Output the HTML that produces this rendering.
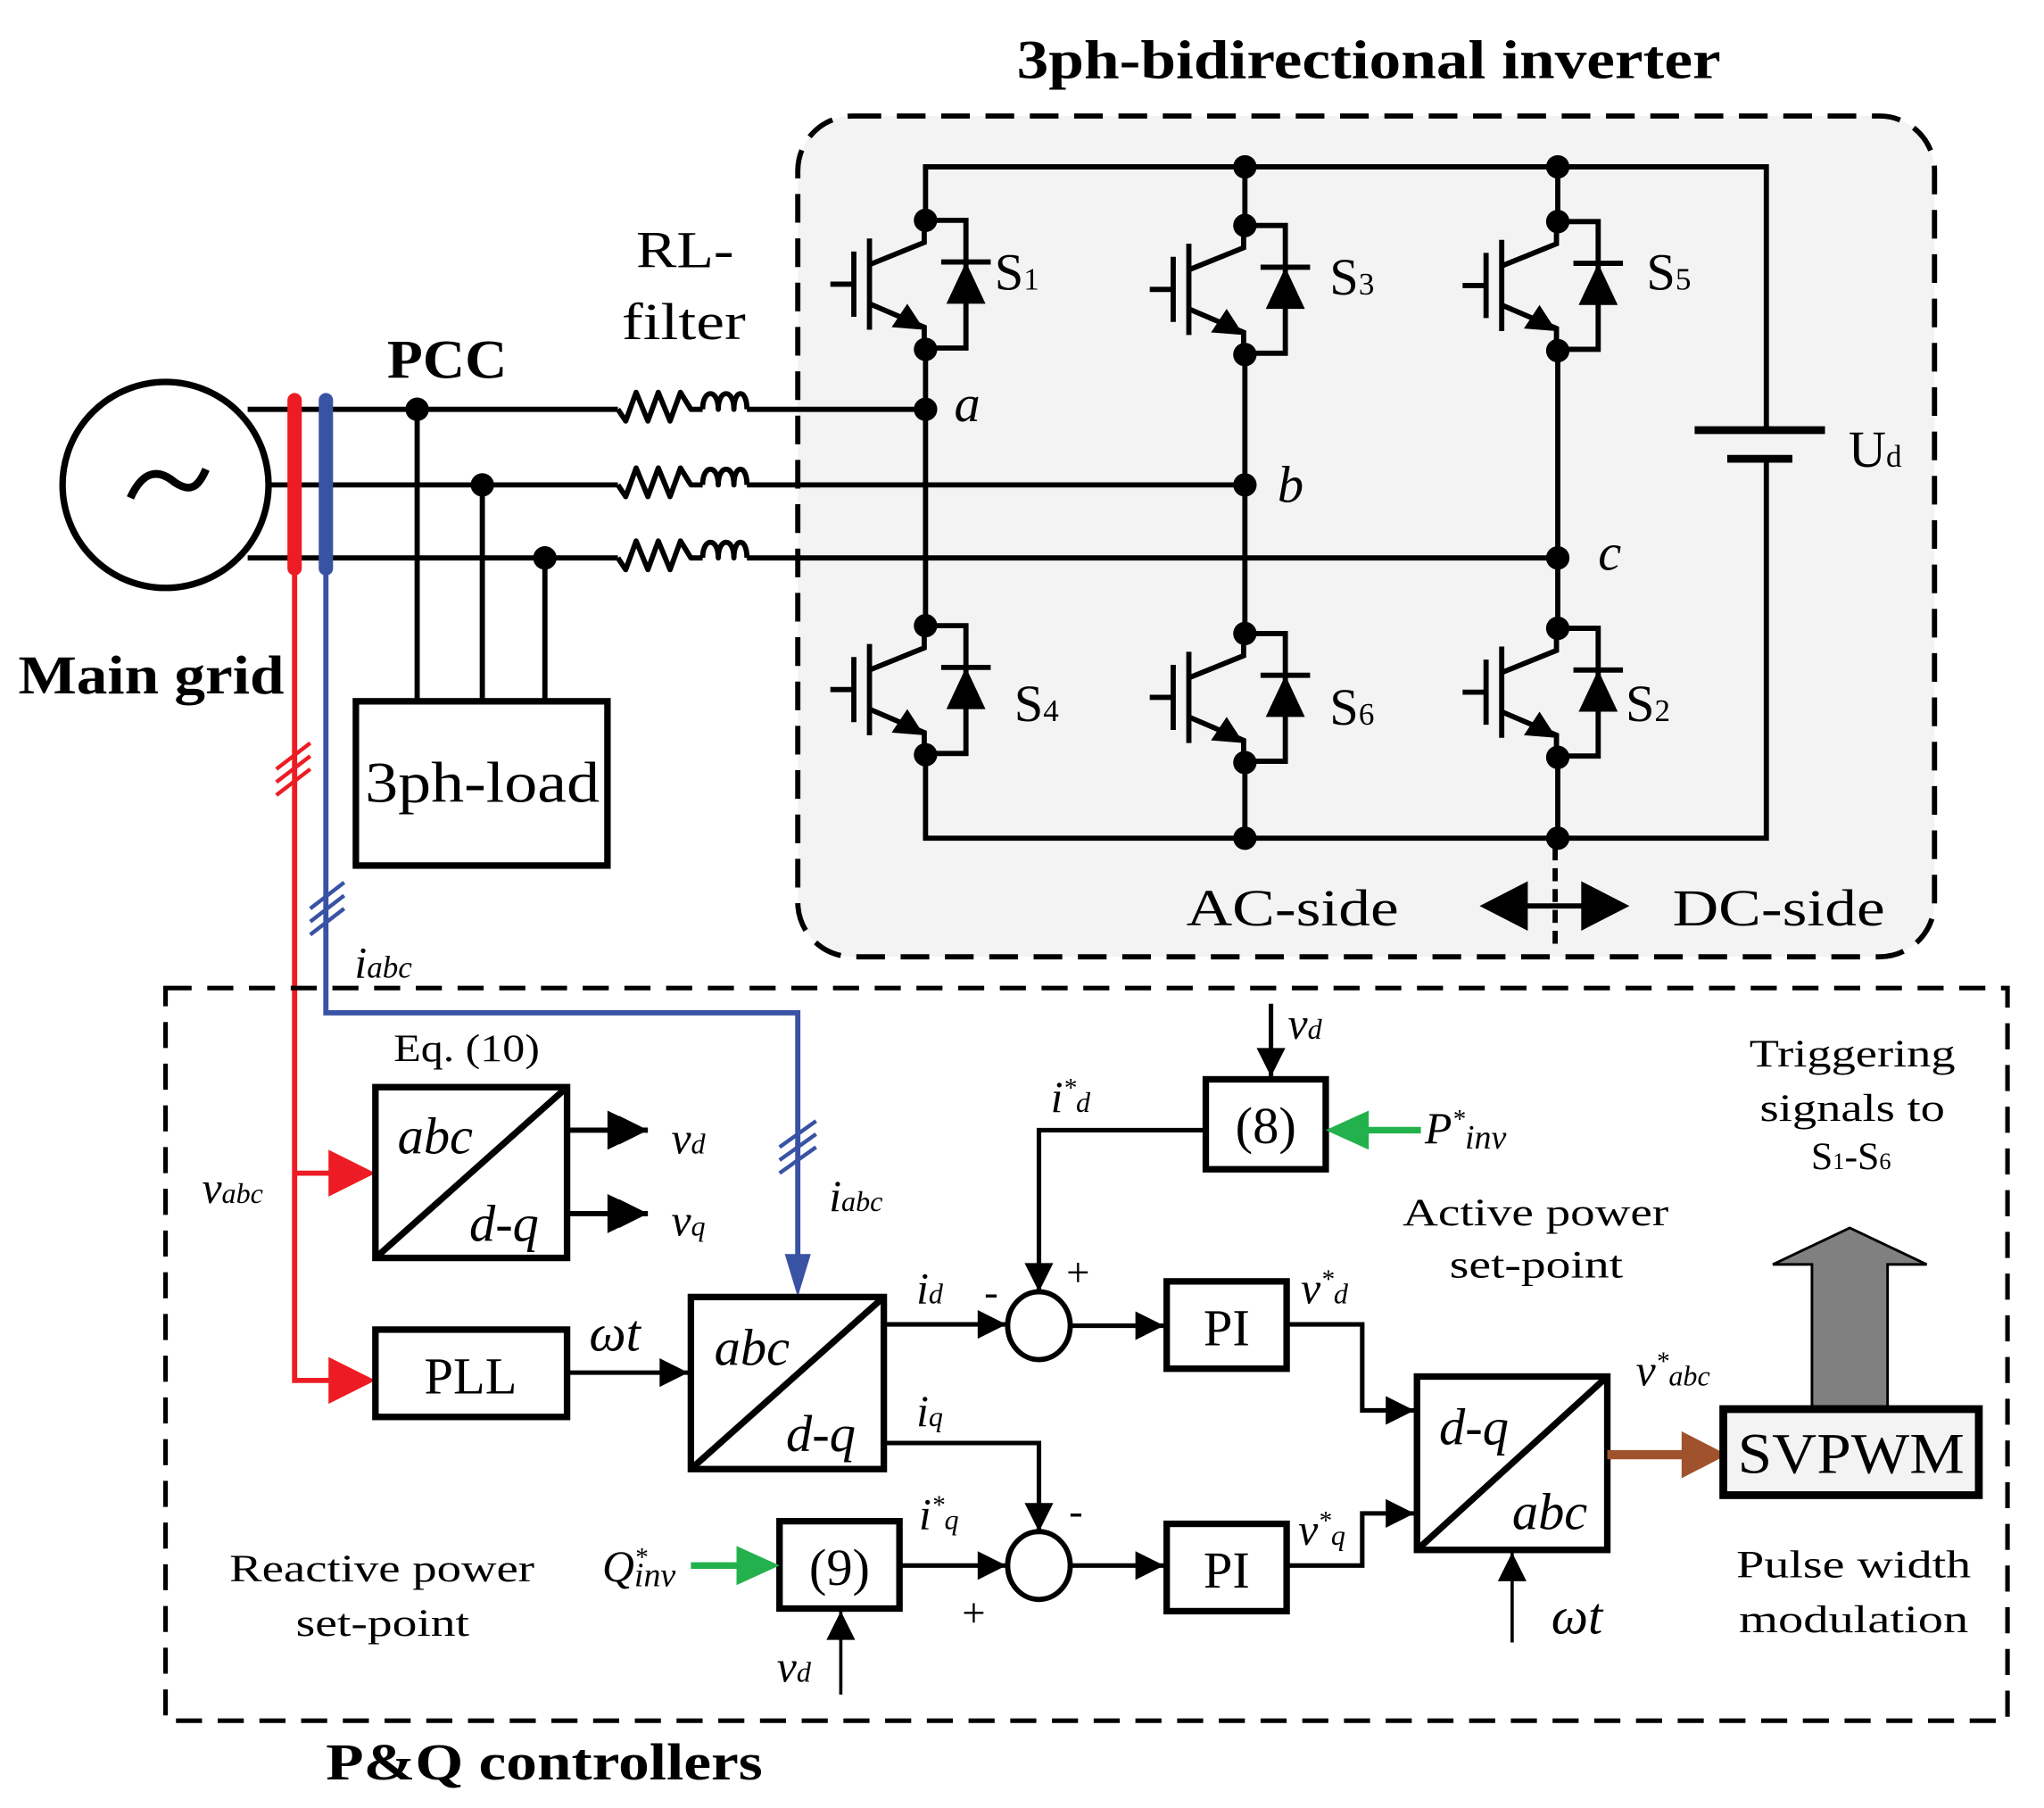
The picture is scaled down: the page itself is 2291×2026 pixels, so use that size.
<!DOCTYPE html>
<html><head><meta charset="utf-8"><style>
html,body{margin:0;padding:0;background:#fff}
svg{display:block}
text{font-family:"Liberation Serif",serif;fill:#000}
.it{font-style:italic}
.b{font-weight:bold}
</style></head><body>
<svg width="2291" height="2026" viewBox="0 0 1568 1387" preserveAspectRatio="none" xmlns="http://www.w3.org/2000/svg">
<defs>
<marker id="ah" viewBox="0 0 10 10" refX="10" refY="5" markerWidth="24" markerHeight="22" markerUnits="userSpaceOnUse" orient="auto"><path d="M0,0 L10,5 L0,10z" fill="#000"/></marker>
<g id="sw" stroke="#000" stroke-width="4" fill="none">
<line x1="-73" y1="49" x2="-55" y2="49"/>
<line x1="-55" y1="24" x2="-55" y2="74"/>
<line x1="-43" y1="14" x2="-43" y2="84"/>
<polyline points="-43,34 -1,17 -1,0"/>
<polyline points="-43,64 -1,82 -1,99"/>
<path d="M-1,84 L-26,82 L-14,64z" fill="#000" stroke="none"/>
<polyline points="0,0 31,0 31,98 0,98"/>
<line x1="12" y1="32" x2="50" y2="32"/>
<path d="M31,32 L16,64 L46,64z" fill="#000" stroke="none"/>
<circle cx="0" cy="0" r="9" fill="#000" stroke="none"/>
<circle cx="0" cy="99" r="9" fill="#000" stroke="none"/>
</g>
<g id="rl" stroke="#000" stroke-width="4" fill="none" stroke-linejoin="round">
<polyline points="474,0 480,9 488,-13 497,9 505,-13 514,9 522,-13 530,0 539,0"/>
<path d="M539,0 C539,-16 551,-16 551,0 C551,-16 563,-16 563,0 C563,-16 573,-16 573,0"/>
</g>
</defs>

<text x="780" y="60" class="b" font-size="42" textLength="540" lengthAdjust="spacingAndGlyphs">3ph-bidirectional inverter</text>

<rect x="612" y="89" width="872" height="645" rx="42" fill="#f2f3f2" stroke="#000" stroke-width="4" stroke-dasharray="22,12"/>

<g stroke="#000" stroke-width="4" fill="none">
<polyline points="710,169 710,128 1355,128 1355,330"/>
<polyline points="1355,352 1355,643 710,643 710,580"/>
<line x1="955" y1="128" x2="955" y2="173"/>
<line x1="1195" y1="128" x2="1195" y2="170"/>
<line x1="710" y1="268" x2="710" y2="480"/>
<line x1="955" y1="272" x2="955" y2="486"/>
<line x1="1195" y1="269" x2="1195" y2="482"/>
<line x1="955" y1="585" x2="955" y2="643"/>
<line x1="1195" y1="581" x2="1195" y2="643"/>
<line x1="1300" y1="330" x2="1400" y2="330" stroke-width="6"/>
<line x1="1325" y1="352" x2="1375" y2="352" stroke-width="6"/>
</g>
<g fill="#000">
<circle cx="955" cy="128" r="9"/><circle cx="1195" cy="128" r="9"/>
<circle cx="955" cy="643" r="9"/><circle cx="1195" cy="643" r="9"/>
<circle cx="710" cy="314" r="9"/><circle cx="955" cy="372" r="9"/><circle cx="1195" cy="428" r="9"/>
</g>
<use href="#sw" x="710" y="169"/>
<use href="#sw" x="955" y="173"/>
<use href="#sw" x="1195" y="170"/>
<use href="#sw" x="710" y="480"/>
<use href="#sw" x="955" y="486"/>
<use href="#sw" x="1195" y="482"/>

<g font-size="40">
<text x="763" y="222">S<tspan font-size="24">1</tspan></text>
<text x="1020" y="226">S<tspan font-size="24">3</tspan></text>
<text x="1263" y="222">S<tspan font-size="24">5</tspan></text>
<text x="778" y="553">S<tspan font-size="24">4</tspan></text>
<text x="1020" y="556">S<tspan font-size="24">6</tspan></text>
<text x="1247" y="553">S<tspan font-size="24">2</tspan></text>
<text x="1418" y="358">U<tspan font-size="24">d</tspan></text>
<text x="732" y="323" class="it">a</text>
<text x="980" y="385" class="it">b</text>
<text x="1226" y="437" class="it">c</text>
<text x="910" y="710" textLength="163" lengthAdjust="spacingAndGlyphs">AC-side</text>
<text x="1283" y="710" textLength="163" lengthAdjust="spacingAndGlyphs">DC-side</text>
</g>
<path d="M1135,695 L1172,676 L1172,714z M1250,695 L1213,676 L1213,714z" fill="#000"/>
<line x1="1170" y1="695" x2="1215" y2="695" stroke="#000" stroke-width="4"/>
<line x1="1193" y1="650" x2="1193" y2="730" stroke="#000" stroke-width="4" stroke-dasharray="10,6"/>

<circle cx="127" cy="372" r="79" fill="#fff" stroke="#000" stroke-width="5"/>
<path d="M100,382 C110,360 122,360 134,370 C146,378 152,374 158,360" stroke="#000" stroke-width="6" fill="none"/>
<g stroke="#000" stroke-width="4">
<line x1="190" y1="314" x2="474" y2="314"/><line x1="573" y1="314" x2="710" y2="314"/>
<line x1="205" y1="372" x2="474" y2="372"/><line x1="573" y1="372" x2="955" y2="372"/>
<line x1="190" y1="428" x2="474" y2="428"/><line x1="573" y1="428" x2="1195" y2="428"/>
<line x1="320" y1="314" x2="320" y2="537"/>
<line x1="370" y1="372" x2="370" y2="537"/>
<line x1="418" y1="428" x2="418" y2="537"/>
</g>
<use href="#rl" y="314"/><use href="#rl" y="372"/><use href="#rl" y="428"/>
<g fill="#000"><circle cx="320" cy="314" r="9"/><circle cx="370" cy="372" r="9"/><circle cx="418" cy="428" r="9"/></g>
<rect x="273" y="538" width="193" height="126" fill="#fff" stroke="#000" stroke-width="5"/>
<text x="280" y="615" font-size="44" textLength="180" lengthAdjust="spacingAndGlyphs">3ph-load</text>
<text x="297" y="290" class="b" font-size="42" textLength="92" lengthAdjust="spacingAndGlyphs">PCC</text>
<text x="488" y="205" font-size="40" textLength="75" lengthAdjust="spacingAndGlyphs">RL-</text>
<text x="477" y="260" font-size="40" textLength="95" lengthAdjust="spacingAndGlyphs">filter</text>
<text x="14" y="532" class="b" font-size="42" textLength="204" lengthAdjust="spacingAndGlyphs">Main grid</text>

<line x1="226" y1="307" x2="226" y2="436" stroke="#ed1c24" stroke-width="11" stroke-linecap="round"/>
<line x1="250" y1="307" x2="250" y2="436" stroke="#3953a4" stroke-width="11" stroke-linecap="round"/>
<polyline points="226,436 226,1059 280,1059" stroke="#ed1c24" stroke-width="4" fill="none"/>
<polyline points="226,900 280,900" stroke="#ed1c24" stroke-width="4" fill="none"/>
<path d="M288,1059 L252,1041 L252,1077z M288,900 L252,882 L252,918z" fill="#ed1c24"/>
<g stroke="#ed1c24" stroke-width="3"><line x1="212" y1="590" x2="238" y2="570"/><line x1="212" y1="600" x2="238" y2="580"/><line x1="212" y1="610" x2="238" y2="590"/></g>
<polyline points="250,436 250,777 612,777 612,965" stroke="#3953a4" stroke-width="4" fill="none"/>
<path d="M612,995 L602,962 L622,962z" fill="#3953a4"/>
<g stroke="#3953a4" stroke-width="3"><line x1="238" y1="697" x2="264" y2="677"/><line x1="238" y1="707" x2="264" y2="687"/><line x1="238" y1="717" x2="264" y2="697"/>
<line x1="598" y1="880" x2="626" y2="860"/><line x1="598" y1="890" x2="626" y2="870"/><line x1="598" y1="900" x2="626" y2="880"/></g>
<text x="272" y="750" class="it" font-size="34">i<tspan font-size="24">abc</tspan></text>

<rect x="127" y="758" width="1413" height="562" fill="none" stroke="#000" stroke-width="3.5" stroke-dasharray="20,12"/>
<text x="250" y="1365" class="b" font-size="40" textLength="335" lengthAdjust="spacingAndGlyphs">P&amp;Q controllers</text>

<g stroke="#000" stroke-width="5" fill="#fff">
<rect x="288" y="834" width="147" height="131"/>
<rect x="288" y="1020" width="147" height="67"/>
<rect x="530" y="995" width="148" height="132"/>
<rect x="925" y="828" width="92" height="69"/>
<rect x="895" y="983" width="92" height="67"/>
<rect x="895" y="1169" width="92" height="67"/>
<rect x="598" y="1167" width="92" height="67"/>
<rect x="1087" y="1056" width="146" height="133"/>
</g>
<g stroke="#000" stroke-width="5">
<line x1="288" y1="965" x2="435" y2="834"/>
<line x1="530" y1="1127" x2="678" y2="995"/>
<line x1="1087" y1="1189" x2="1233" y2="1056"/>
</g>
<ellipse cx="797" cy="1017" rx="24" ry="26" fill="#fff" stroke="#000" stroke-width="4"/>
<ellipse cx="797" cy="1201" rx="24" ry="26" fill="#fff" stroke="#000" stroke-width="4"/>

<g stroke="#000" stroke-width="3.5" fill="none" marker-end="url(#ah)">
<line x1="435" y1="867" x2="497" y2="867" stroke-width="4"/>
<line x1="435" y1="931" x2="497" y2="931" stroke-width="4"/>
<line x1="435" y1="1053" x2="528" y2="1053"/>
<line x1="678" y1="1016" x2="772" y2="1016"/>
<polyline points="678,1107 797,1107 797,1175"/>
<polyline points="925,867 797,867 797,991"/>
<line x1="975" y1="770" x2="975" y2="826"/>
<line x1="822" y1="1017" x2="893" y2="1017"/>
<line x1="822" y1="1201" x2="893" y2="1201"/>
<line x1="690" y1="1201" x2="772" y2="1201"/>
<polyline points="987,1016 1045,1016 1045,1082 1085,1082"/>
<polyline points="987,1201 1045,1201 1045,1161 1085,1161"/>
<line x1="1160" y1="1260" x2="1160" y2="1191" stroke-width="2.5"/>
<line x1="645" y1="1300" x2="645" y2="1236" stroke-width="2.5"/>
</g>
<path d="M497,867 L466,852 L466,882z M497,931 L466,916 L466,946z" fill="#000"/>
<line x1="1090" y1="867" x2="1040" y2="867" stroke="#22b14c" stroke-width="5"/>
<path d="M1017,867 L1050,852 L1050,882z" fill="#22b14c"/>
<line x1="530" y1="1201" x2="572" y2="1201" stroke="#22b14c" stroke-width="5"/>
<path d="M598,1201 L565,1186 L565,1216z" fill="#22b14c"/>
<line x1="1233" y1="1116" x2="1295" y2="1116" stroke="#a0522d" stroke-width="7"/>
<path d="M1325,1116 L1290,1098 L1290,1134z" fill="#a0522d"/>
<path d="M1390,1079 L1390,970 L1360,970 L1419,942 L1478,970 L1448,970 L1448,1079z" fill="#808080" stroke="#000" stroke-width="2"/>
<rect x="1322" y="1081" width="196" height="66" fill="#f2f3f2" stroke="#000" stroke-width="6"/>
<text x="1333" y="1130" font-size="44" textLength="174" lengthAdjust="spacingAndGlyphs">SVPWM</text>

<g font-size="40">
<text x="305" y="885" class="it">abc</text>
<text x="360" y="952" class="it">d-q</text>
<text x="548" y="1047" class="it">abc</text>
<text x="603" y="1113" class="it">d-q</text>
<text x="1104" y="1108" class="it">d-q</text>
<text x="1160" y="1173" class="it">abc</text>
<text x="361" y="1069" text-anchor="middle">PLL</text>
<text x="971" y="877" text-anchor="middle">(8)</text>
<text x="941" y="1032" text-anchor="middle">PI</text>
<text x="941" y="1218" text-anchor="middle">PI</text>
<text x="644" y="1216" text-anchor="middle">(9)</text>
<text x="452" y="1036" class="it">ωt</text>
<text x="1190" y="1253" class="it">ωt</text>
</g>
<g font-size="34" class="it">
<text x="515" y="885">v<tspan font-size="22">d</tspan></text>
<text x="515" y="948">v<tspan font-size="22">q</tspan></text>
<text x="155" y="923">v<tspan font-size="22">abc</tspan></text>
<text x="636" y="929">i<tspan font-size="22">abc</tspan></text>
<text x="703" y="1000">i<tspan font-size="22">d</tspan></text>
<text x="703" y="1094">i<tspan font-size="22">q</tspan></text>
<text x="806" y="853">i<tspan font-size="20" dy="-12">*</tspan><tspan font-size="22" dy="12">d</tspan></text>
<text x="705" y="1173">i<tspan font-size="20" dy="-12">*</tspan><tspan font-size="22" dy="12">q</tspan></text>
<text x="988" y="797">v<tspan font-size="22">d</tspan></text>
<text x="596" y="1290">v<tspan font-size="22">d</tspan></text>
<text x="998" y="1000">v<tspan font-size="20" dy="-12">*</tspan><tspan font-size="22" dy="12">d</tspan></text>
<text x="996" y="1185">v<tspan font-size="20" dy="-12">*</tspan><tspan font-size="22" dy="12">q</tspan></text>
<text x="1255" y="1063">v<tspan font-size="20" dy="-12">*</tspan><tspan font-size="22" dy="12">abc</tspan></text>
<text x="1093" y="877">P<tspan font-size="20" dy="-12">*</tspan><tspan font-size="26" dy="16">inv</tspan></text>
<text x="462" y="1213">Q<tspan font-size="20" dy="-12">*</tspan><tspan font-size="26" dy="16" dx="-10">inv</tspan></text>
</g>
<g font-size="32">
<text x="818" y="987">+</text>
<text x="755" y="1002">-</text>
<text x="820" y="1170">-</text>
<text x="738" y="1248">+</text>
</g>
<g font-size="30">
<text x="302" y="814" textLength="112" lengthAdjust="spacingAndGlyphs">Eq. (10)</text>
<text x="1342" y="818" textLength="158" lengthAdjust="spacingAndGlyphs">Triggering</text>
<text x="1350" y="860" textLength="142" lengthAdjust="spacingAndGlyphs">signals to</text>
<text x="1420" y="897" text-anchor="middle">S<tspan font-size="18">1</tspan>-S<tspan font-size="18">6</tspan></text>
<text x="1076" y="940" textLength="204" lengthAdjust="spacingAndGlyphs">Active power</text>
<text x="1112" y="980" textLength="133" lengthAdjust="spacingAndGlyphs">set-point</text>
<text x="176" y="1213" textLength="234" lengthAdjust="spacingAndGlyphs">Reactive power</text>
<text x="227" y="1255" textLength="133" lengthAdjust="spacingAndGlyphs">set-point</text>
<text x="1332" y="1210" textLength="180" lengthAdjust="spacingAndGlyphs">Pulse width</text>
<text x="1334" y="1252" textLength="176" lengthAdjust="spacingAndGlyphs">modulation</text>
</g>
</svg>
</body></html>
